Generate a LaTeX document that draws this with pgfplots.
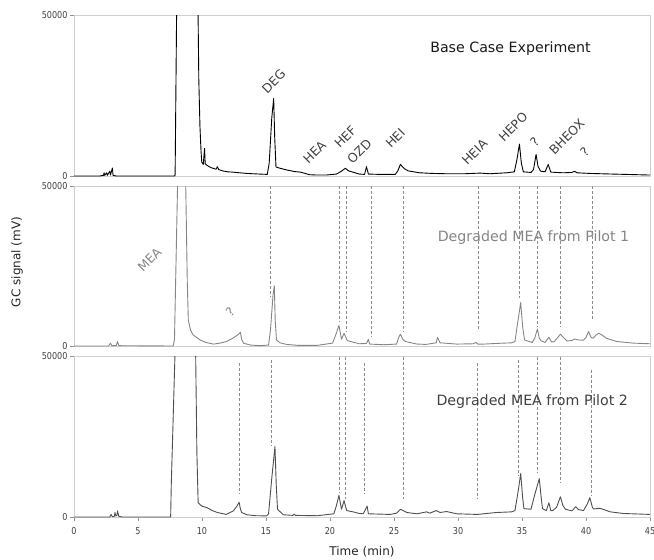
\documentclass[border=0pt]{standalone}
\usepackage{fontspec}
\setmainfont{DejaVu Sans}
\newfontfamily\tickfont[FakeStretch=0.85]{DejaVu Sans}
\usepackage{pgfplots}
\pgfplotsset{compat=1.18}

\definecolor{framec}{HTML}{CFCFCF}
\definecolor{labc}{HTML}{404040}
\definecolor{pilotone}{HTML}{858585}
\definecolor{pilottwo}{HTML}{4F4F4F}
\definecolor{dashc}{HTML}{8C8C8C}

\pgfplotsset{
  chrom/.style={
    scale only axis, width=576pt, anchor=south west,
    xmin=0, xmax=45, ymin=0, ymax=50000,
    axis line style={framec},
    xtick=\empty,
    ytick={0,50000}, yticklabels={0,50000}, scaled y ticks=false,
    ytick pos=left, xtick pos=bottom,
    tick align=outside, major tick length=4pt,
    tick style={framec!70!black},
    yticklabel style={font=\tickfont\fontsize{9.5}{10}\selectfont, text=labc, xshift=1pt},
  },
}
\tikzset{
  trace/.style={line width=0.9pt, line join=round},
  dashline/.style={dashc, line width=0.6pt, dash pattern=on 3pt off 2pt},
  peaklab/.style={rotate=45, font=\fontsize{12.5}{14}\selectfont, text=labc},
}

\begin{document}
\begin{tikzpicture}
\useasboundingbox (0pt,0pt) rectangle (654pt,-560pt);

% ---- base case ----
\begin{axis}[chrom, at={(74pt,-176pt)}, height=161pt]
\addplot[trace, black] coordinates {
(0,0) (2.0,0) (2.3,200) (2.35,1000) (2.4,200) (2.55,1000) (2.6,200) (2.8,1500) (2.85,300)
(3.0,2500) (3.05,200) (3.3,0) (7.85,0) (7.9,300) (8.02,52000) (8.2,150000) (9.5,150000)
(9.68,55000) (9.75,30000) (9.84,15400) (9.92,8000) (9.98,4300) (10.1,3600) (10.2,8600)
(10.25,3800) (10.4,3300) (10.7,2600) (11.1,2100) (11.2,2900) (11.3,2000) (11.6,1600)
(12.0,1300) (12.4,1200) (13.5,800) (14.5,600) (15.1,500) (15.25,4000) (15.45,18000)
(15.6,24100) (15.68,12000) (15.78,2800) (16.1,2400) (16.6,1900) (17.2,1400) (17.7,1200)
(18.4,400) (19.0,300) (19.7,300) (20.5,600) (20.9,1500) (21.2,2400) (21.45,1600)
(21.7,1300) (22.3,600) (22.7,500) (22.85,2900) (23.0,600) (23.9,500) (25.1,500)
(25.3,1600) (25.5,3600) (25.8,2300) (26.1,1600) (27.0,1000) (28.0,800) (29.1,700)
(30.5,700) (31.7,900) (32.5,700) (33.8,1000) (34.4,1300) (34.6,5000) (34.8,9900)
(34.95,4000) (35.1,1300) (35.7,1100) (35.9,2000) (36.1,6700) (36.25,3000) (36.45,1500)
(36.8,1300) (37.05,3600) (37.25,1200) (38.2,1000) (38.9,1100) (39.1,1500) (39.3,1000)
(40.3,800) (42.1,600) (45,300)};
\node[peaklab] at (axis cs:15.6,29400) {DEG};
\node[peaklab] at (axis cs:18.8,7400) {HEA};
\node[peaklab] at (axis cs:21.2,12100) {HEF};
\node[peaklab] at (axis cs:22.3,7700) {OZD};
\node[peaklab] at (axis cs:25.1,11700) {HEI};
\node[peaklab] at (axis cs:31.3,7400) {HEIA};
\node[peaklab] at (axis cs:34.3,15200) {HEPO};
\node[peaklab] at (axis cs:36.0,10600) {?};
\node[peaklab] at (axis cs:38.5,12100) {BHEOX};
\node[peaklab] at (axis cs:39.9,7500) {?};
\node[font=\fontsize{14.2}{16}\selectfont, text=black!90] at (axis cs:34.1,39600) {Base Case Experiment};
\end{axis}

% ---- pilot 1 ----
\begin{axis}[chrom, at={(74pt,-346pt)}, height=160pt]
\addplot[dashline] coordinates {(15.3,50000) (15.3,15400)};
\addplot[dashline] coordinates {(20.7,50000) (20.7,7500)};
\addplot[dashline] coordinates {(21.25,50000) (21.25,4400)};
\addplot[dashline] coordinates {(23.2,50000) (23.2,2800)};
\addplot[dashline] coordinates {(25.7,50000) (25.7,4400)};
\addplot[dashline] coordinates {(31.6,50000) (31.6,5000)};
\addplot[dashline] coordinates {(34.8,50000) (34.8,15000)};
\addplot[dashline] coordinates {(36.2,50000) (36.2,6000)};
\addplot[dashline] coordinates {(38.0,50000) (38.0,6000)};
\addplot[dashline] coordinates {(40.5,50000) (40.5,8200)};
\addplot[trace, pilotone] coordinates {
(0,0) (2.7,0) (2.85,900) (2.95,100) (3.3,100) (3.4,1400) (3.5,100) (7.75,0) (7.85,2000)
(8.1,52000) (8.2,120000) (8.5,120000) (8.6,80000) (8.73,50000) (8.85,20000) (8.93,8200)
(9.1,5000) (9.3,3500) (9.84,1900) (10.3,1100) (10.9,600) (11.4,900) (11.9,1400)
(12.4,2400) (12.8,3500) (13.0,4300) (13.1,2000) (13.25,850) (13.8,300) (14.5,100)
(15.2,300) (15.35,5000) (15.55,16000) (15.65,18800) (15.72,8000) (15.82,1900) (16.1,1000)
(16.6,500) (17.5,200) (19.0,200) (20.2,900) (20.45,3500) (20.7,6400) (20.9,2100)
(21.1,4000) (21.35,1700) (21.8,1200) (22.3,700) (22.85,800) (23.0,2100) (23.1,600)
(24.2,400) (25.2,600) (25.35,2500) (25.5,3700) (25.7,2000) (25.9,1400) (26.8,600)
(27.5,500) (28.3,1000) (28.4,2700) (28.6,1000) (29.9,600) (31.2,700) (31.4,1100)
(31.55,600) (32.0,600) (33.0,800) (34.2,1000) (34.45,1400) (34.65,7000) (34.9,13600)
(35.05,6000) (35.2,1900) (35.8,1100) (36.0,2500) (36.2,5300) (36.35,2500) (36.5,1600)
(36.8,1100) (37.1,2700) (37.3,1300) (37.5,1300) (37.8,2700) (38.0,3700) (38.2,2800)
(38.5,1600) (38.9,1700) (39.1,2200) (39.4,1900) (39.8,1800) (40.0,2700) (40.2,4500)
(40.4,2700) (40.55,2400) (40.8,3500) (41.0,4000) (41.3,3300) (41.6,2400) (42.4,1400)
(43.7,900) (45,700)};
\node[peaklab, text=pilotone] at (axis cs:5.9,27000) {MEA};
\node[peaklab, text=pilotone] at (axis cs:12.2,10800) {?};
\node[font=\fontsize{14.2}{16}\selectfont, text=pilotone] at (axis cs:35.9,33900) {Degraded MEA from Pilot 1};
\end{axis}

% ---- pilot 2 ----
\begin{axis}[chrom, at={(74pt,-517pt)}, height=161pt,
  xtick={0,5,...,45}, xticklabels={0,5,10,15,20,25,30,35,40,45},
  xticklabel style={font=\tickfont\fontsize{9.5}{10}\selectfont, text=labc, yshift=-3pt}]
\addplot[dashline] coordinates {(12.9,47800) (12.9,7000)};
\addplot[dashline] coordinates {(15.4,48700) (15.4,22000)};
\addplot[dashline] coordinates {(20.7,49600) (20.7,7600)};
\addplot[dashline] coordinates {(21.2,49600) (21.2,5500)};
\addplot[dashline] coordinates {(22.7,47800) (22.7,7000)};
\addplot[dashline] coordinates {(25.7,49600) (25.7,5500)};
\addplot[dashline] coordinates {(31.5,47800) (31.5,5500)};
\addplot[dashline] coordinates {(34.7,48700) (34.7,12600)};
\addplot[dashline] coordinates {(36.2,49600) (36.2,13800)};
\addplot[dashline] coordinates {(38.0,49600) (38.0,10700)};
\addplot[dashline] coordinates {(40.4,45700) (40.4,6400)};
\addplot[trace, pilottwo] coordinates {
(0,0) (2.8,0) (2.9,800) (3.0,100) (3.15,200) (3.2,1400) (3.27,300) (3.35,500) (3.4,1900)
(3.5,200) (3.8,0) (7.55,0) (7.6,10000) (7.9,52000) (8.1,150000) (9.3,150000) (9.5,52000)
(9.6,20000) (9.7,4400) (9.98,3400) (10.4,2900) (10.8,2000) (11.2,1400) (11.9,800)
(12.45,1900) (12.75,3500) (12.9,4600) (13.0,2500) (13.1,1400) (13.5,700) (14.2,400)
(15.05,350) (15.2,1000) (15.45,12000) (15.7,21900) (15.8,10000) (15.9,2400) (16.35,700)
(17.1,500) (17.2,900) (17.3,500) (19.0,400) (20.3,1000) (20.5,3500) (20.7,6700)
(20.9,2400) (21.1,5100) (21.3,2000) (21.8,1600) (22.3,1100) (22.6,1000) (22.9,3400)
(23.0,1000) (24.7,800) (25.2,1200) (25.5,2400) (26.0,1400) (26.8,1000) (27.55,1600)
(27.8,1200) (28.3,2000) (28.6,1400) (29.1,1700) (29.9,1000) (31.5,800) (33.0,1400)
(34.2,1600) (34.45,2000) (34.7,8000) (34.9,13500) (35.05,6000) (35.15,2600) (35.7,2400)
(36.0,7000) (36.35,11900) (36.5,6000) (36.6,2600) (36.9,2000) (37.1,4400) (37.25,2000)
(37.4,2000) (37.7,3000) (38.0,6300) (38.2,3500) (38.4,2400) (38.9,1900) (39.2,3200)
(39.4,2300) (39.8,2000) (40.1,4000) (40.3,6000) (40.5,3000) (40.6,2500) (41.1,2700)
(41.9,1600) (42.9,1100) (45,800)};
\node[font=\fontsize{14.2}{16}\selectfont, text=labc] at (axis cs:35.8,35800) {Degraded MEA from Pilot 2};
\end{axis}

\node[rotate=90, font=\fontsize{12}{14}\selectfont, text=black!85] at (17pt,-262pt) {GC signal (mV)};
\node[font=\fontsize{12}{14}\selectfont, text=black!85] at (362pt,-552pt) {Time (min)};
\end{tikzpicture}
\end{document}
